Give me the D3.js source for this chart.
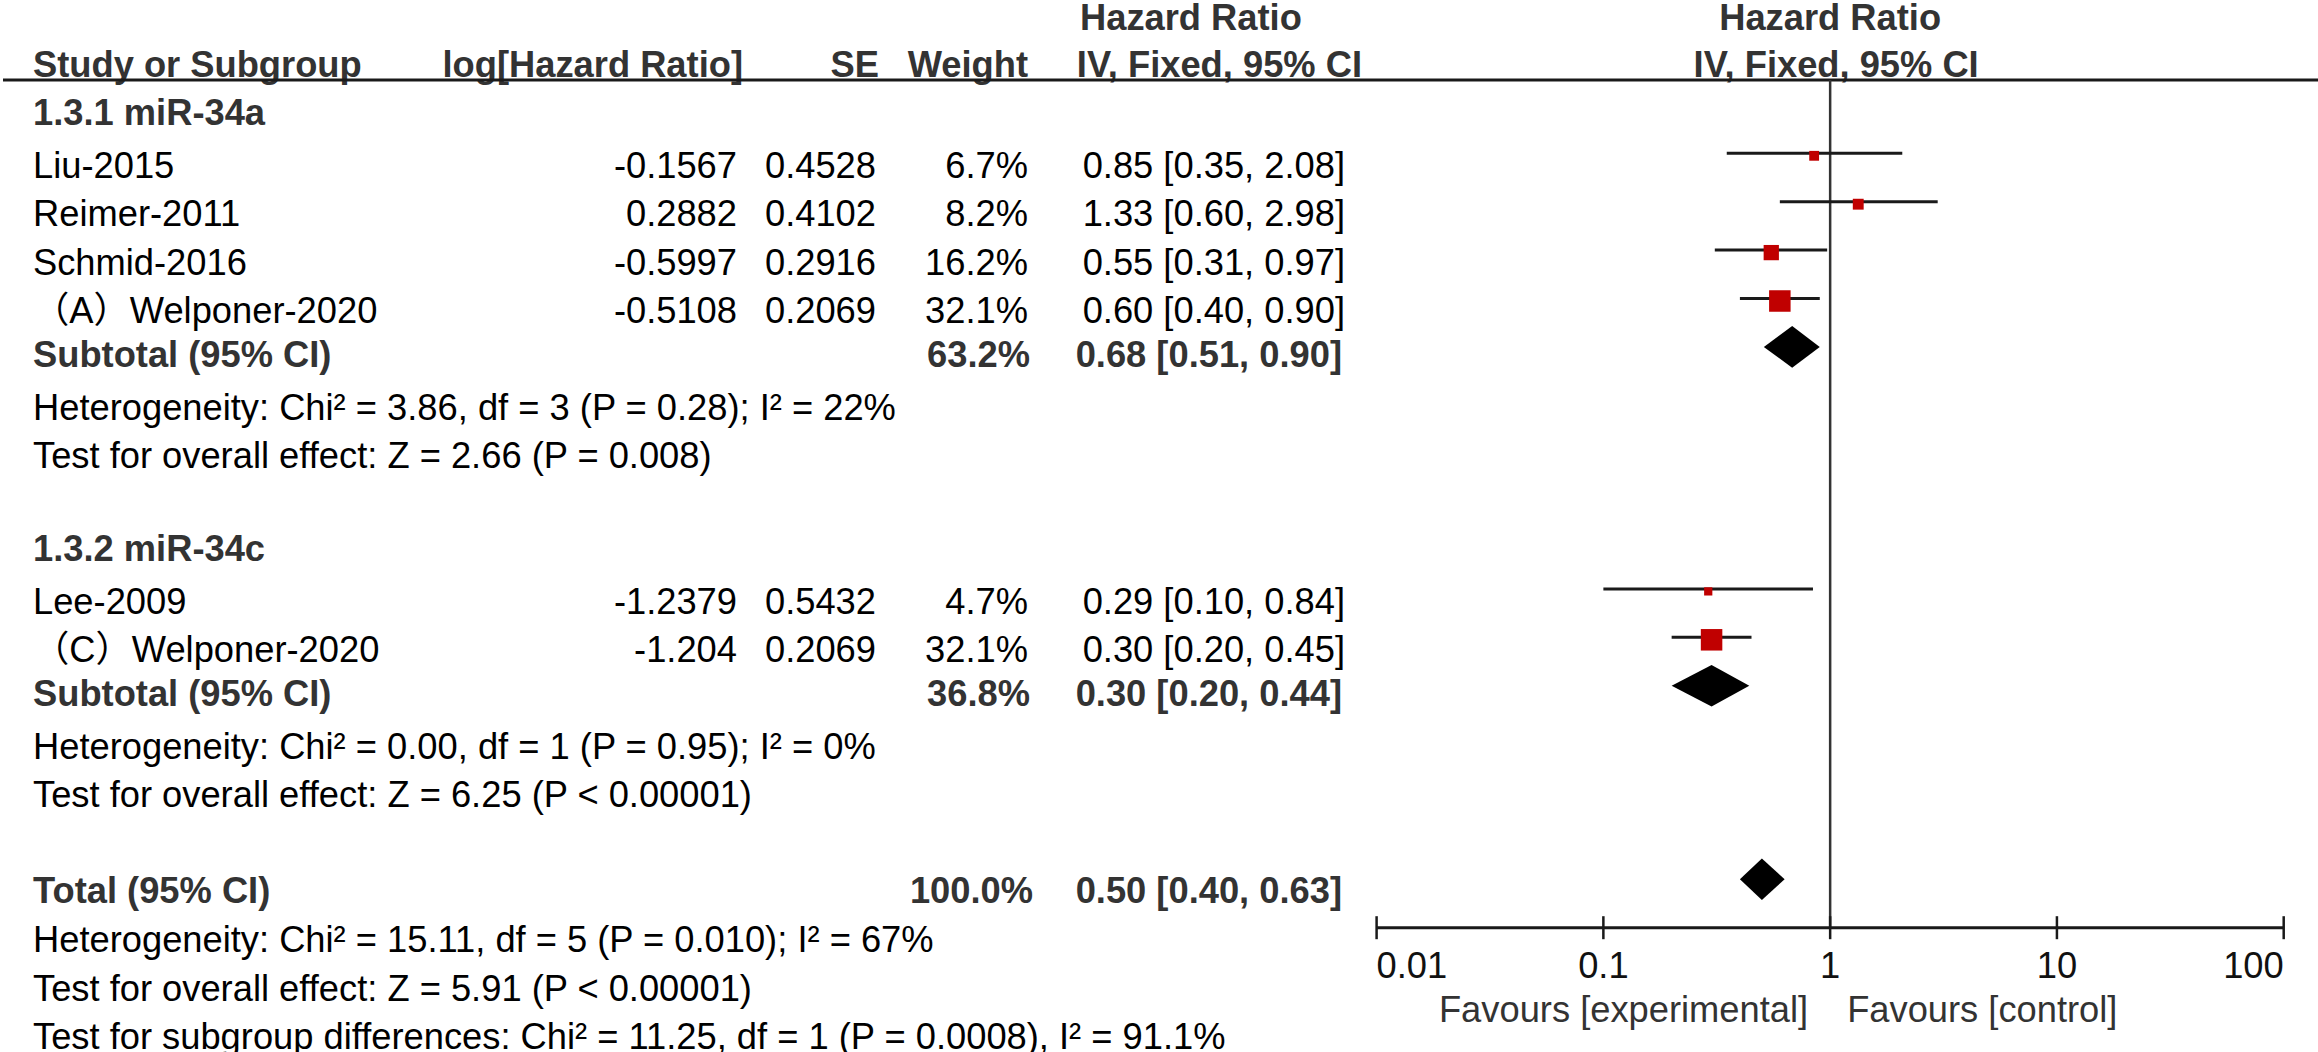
<!DOCTYPE html>
<html>
<head>
<meta charset="utf-8">
<script src="https://cdn.jsdelivr.net/npm/d3@7/dist/d3.min.js"></script>
<style>
  html, body { margin: 0; padding: 0; background: #fff; }
  svg { display: block; }
  text { font-family: "Liberation Sans", Arial, "Noto Sans CJK SC", sans-serif; }
</style>
</head>
<body>
<svg id="chart" width="2318" height="1052"></svg>
<script>
// ---------------- DATA ----------------
const groupTitles = ["1.3.1 miR-34a", "1.3.2 miR-34c"];
const studyNames  = ["Liu-2015", "Reimer-2011", "Schmid-2016", "（A）Welponer-2020", "Lee-2009", "（C）Welponer-2020"];
const studyGroup  = [0, 0, 0, 0, 1, 1];
const studyLogHR  = [-0.1567, 0.2882, -0.5997, -0.5108, -1.2379, -1.204];
const studySE     = [0.4528, 0.4102, 0.2916, 0.2069, 0.5432, 0.2069];
const studyWeight = [6.7, 8.2, 16.2, 32.1, 4.7, 32.1];
const studyHR     = [0.85, 1.33, 0.55, 0.60, 0.29, 0.30];
const studyLo     = [0.35, 0.60, 0.31, 0.40, 0.10, 0.20];
const studyHi     = [2.08, 2.98, 0.97, 0.90, 0.84, 0.45];

const subWeight = [63.2, 36.8];
const subHR     = [0.68, 0.30];
const subLo     = [0.51, 0.20];
const subHi     = [0.90, 0.44];
const subHetero = ["Heterogeneity: Chi² = 3.86, df = 3 (P = 0.28); I² = 22%",
                   "Heterogeneity: Chi² = 0.00, df = 1 (P = 0.95); I² = 0%"];
const subTest   = ["Test for overall effect: Z = 2.66 (P = 0.008)",
                   "Test for overall effect: Z = 6.25 (P < 0.00001)"];

const totalWeight = 100.0;
const totalHR = 0.50, totalLo = 0.40, totalHi = 0.63;
const totalTexts = ["Heterogeneity: Chi² = 15.11, df = 5 (P = 0.010); I² = 67%",
                    "Test for overall effect: Z = 5.91 (P < 0.00001)",
                    "Test for subgroup differences: Chi² = 11.25, df = 1 (P = 0.0008), I² = 91.1%"];

const tickValues = [0.01, 0.1, 1, 10, 100];
const tickLabels = ["0.01", "0.1", "1", "10", "100"];
const favoursLeft = "Favours [experimental]";
const favoursRight = "Favours [control]";

// ---------------- LAYOUT ----------------
const W = 2318, H = 1052;
const FS = 36.3;
const svg = d3.select("#chart");

const x = d3.scaleLog().domain([0.01, 100]).range([1376.6, 2283.7]);
const rowY = d3.scaleLinear().domain([0, 20]).range([76.7, 1044.7]);
const markY = i => rowY(i) - 20.2;
const textY = (i, bold) => rowY(i) + (bold ? 0 : 4.5);
const sqSize = d3.scaleSqrt().domain([0, 32.1]).range([0, 21.5]);

const col = { name: 33, logHR: 737, se: 876, weight: 1028, ci: 1345 };
const fmt2 = d3.format(".2f");
const ciText = (h, l, u) => `${fmt2(h)} [${fmt2(l)}, ${fmt2(u)}]`;

// build rows
const rows = [];
groupTitles.forEach((t, g) => {
  rows.push({ type: "title", text: t });
  studyNames.forEach((n, k) => { if (studyGroup[k] === g) rows.push({ type: "study", k }); });
  rows.push({ type: "subtotal", g });
  rows.push({ type: "note", text: subHetero[g] });
  rows.push({ type: "note", text: subTest[g] });
  rows.push({ type: "blank" });
});
rows.push({ type: "total" });
totalTexts.forEach(t => rows.push({ type: "note", text: t }));
rows.forEach((r, i) => r.i = i + 1);

const BOLD_COL = "#333333";
function txt(xp, yp, s, opts = {}) {
  return svg.append("text")
    .attr("x", xp).attr("y", yp)
    .attr("font-size", opts.size || FS)
    .attr("font-weight", opts.bold ? "bold" : "normal")
    .attr("fill", opts.fill || (opts.bold ? BOLD_COL : "#000"))
    .attr("text-anchor", opts.anchor || "start")
    .text(s);
}

// ---------------- HEADER ----------------
const head1Y = rowY(-1) + 1.8;
txt(1080, head1Y, "Hazard Ratio", { bold: true });
txt(x(1), head1Y, "Hazard Ratio", { bold: true, anchor: "middle" });
txt(col.name, rowY(0), "Study or Subgroup", { bold: true });
txt(743, rowY(0), "log[Hazard Ratio]", { bold: true, anchor: "end" });
txt(879, rowY(0), "SE", { bold: true, anchor: "end" });
txt(1028, rowY(0), "Weight", { bold: true, anchor: "end" });
txt(1362, rowY(0), "IV, Fixed, 95% CI", { bold: true, anchor: "end" });
txt(x(1) + 6, rowY(0), "IV, Fixed, 95% CI", { bold: true, anchor: "middle" });

svg.append("line").attr("x1", 3).attr("x2", W).attr("y1", 80).attr("y2", 80)
  .attr("stroke", "#1a1a1a").attr("stroke-width", 3);

// vertical line of no effect
const axisY = markY(18);
svg.append("line").attr("x1", x(1)).attr("x2", x(1)).attr("y1", 80).attr("y2", axisY)
  .attr("stroke", "#333").attr("stroke-width", 2.5);

// ---------------- ROWS ----------------
function diamond(h, l, u, yc) {
  const hh = 20.8;
  svg.append("polygon")
    .attr("points", [[x(l), yc], [x(h), yc - hh], [x(u), yc], [x(h), yc + hh]].map(p => p.join(",")).join(" "))
    .attr("fill", "#000");
}

rows.forEach(r => {
  const i = r.i;
  if (r.type === "title") {
    txt(col.name, textY(i, true), r.text, { bold: true });
  } else if (r.type === "study") {
    const k = r.k;
    const ty = textY(i, false);
    txt(col.name, ty, studyNames[k]);
    txt(col.logHR, ty, String(studyLogHR[k]), { anchor: "end" });
    txt(col.se, ty, String(studySE[k]), { anchor: "end" });
    txt(col.weight, ty, studyWeight[k].toFixed(1) + "%", { anchor: "end" });
    txt(col.ci, ty, ciText(studyHR[k], studyLo[k], studyHi[k]), { anchor: "end" });
    const my = markY(i);
    svg.append("line").attr("x1", x(studyLo[k])).attr("x2", x(studyHi[k]))
      .attr("y1", my).attr("y2", my).attr("stroke", "#1a1a1a").attr("stroke-width", 3);
    const s = sqSize(studyWeight[k]);
    svg.append("rect").attr("x", x(studyHR[k]) - s / 2).attr("y", my + 2.5 - s / 2)
      .attr("width", s).attr("height", s).attr("fill", "#c00000");
  } else if (r.type === "subtotal") {
    const g = r.g, ty = textY(i, true);
    txt(col.name, ty, "Subtotal (95% CI)", { bold: true });
    txt(col.weight + 2, ty, subWeight[g].toFixed(1) + "%", { bold: true, anchor: "end" });
    txt(col.ci - 3, ty, ciText(subHR[g], subLo[g], subHi[g]), { bold: true, anchor: "end" });
    diamond(subHR[g], subLo[g], subHi[g], markY(i));
  } else if (r.type === "total") {
    const ty = textY(i, true) + 3;
    txt(col.name, ty, "Total (95% CI)", { bold: true });
    txt(col.weight + 5, ty, totalWeight.toFixed(1) + "%", { bold: true, anchor: "end" });
    txt(col.ci - 3, ty, ciText(totalHR, totalLo, totalHi), { bold: true, anchor: "end" });
    diamond(totalHR, totalLo, totalHi, markY(i));
  } else if (r.type === "note") {
    txt(col.name, textY(i, false), r.text);
  }
});

// ---------------- AXIS ----------------
svg.append("line").attr("x1", x(0.01)).attr("x2", x(100)).attr("y1", axisY).attr("y2", axisY)
  .attr("stroke", "#1a1a1a").attr("stroke-width", 3);
tickValues.forEach((v, j) => {
  svg.append("line").attr("x1", x(v)).attr("x2", x(v)).attr("y1", axisY - 11.5).attr("y2", axisY + 11.5)
    .attr("stroke", "#1a1a1a").attr("stroke-width", 2.5);
  const anchor = j === 0 ? "start" : (j === tickValues.length - 1 ? "end" : "middle");
  txt(x(v), 977.7, tickLabels[j], { anchor, fill: "#111" });
});
txt(x(1) - 22, 1021.7, favoursLeft, { anchor: "end", fill: "#333" });
txt(x(1) + 17, 1021.7, favoursRight, { anchor: "start", fill: "#333" });
</script>
</body>
</html>
